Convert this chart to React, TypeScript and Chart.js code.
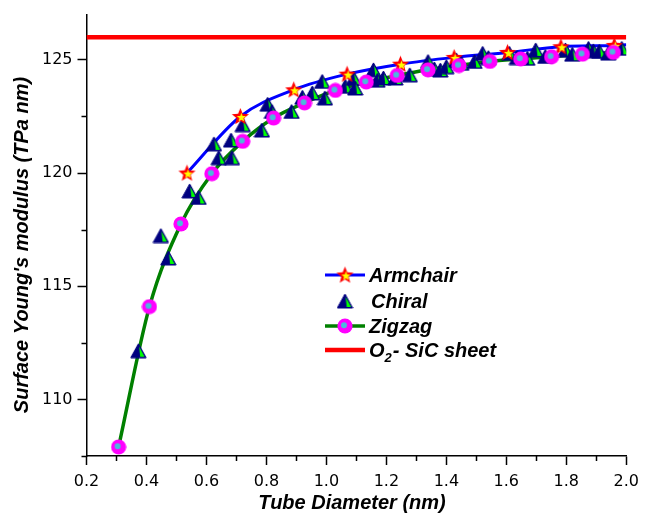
import React, { useEffect, useRef } from "react";
import { Chart, registerables } from "chart.js";

Chart.register(...registerables);

// ---- data ----
const xTicks = [0.2, 0.4, 0.6, 0.8, 1.0, 1.2, 1.4, 1.6, 1.8, 2.0];
const xMinorTicks = [0.3, 0.5, 0.7, 0.9, 1.1, 1.3, 1.5, 1.7, 1.9];
const yTicks = [110, 115, 120, 125];
const yMinorTicks = [107.5, 112.5, 117.5, 122.5];

const armchairD = [0.535, 0.713, 0.891, 1.069, 1.247, 1.426, 1.604, 1.782, 1.96];
const armchairE = [120.0, 122.5, 123.68, 124.37, 124.81, 125.11, 125.33, 125.58, 125.64];
// fitted curve drawn through the armchair points up to the right edge
const armchairFitD = [0.535, 0.713, 0.891, 1.069, 1.247, 1.426, 1.604, 1.782, 1.96, 2.0];
const armchairFitE = [120.0, 122.5, 123.68, 124.37, 124.81, 125.11, 125.33, 125.58, 125.64, 125.67];

const zigzagD = [0.307, 0.41, 0.515, 0.618, 0.721, 0.824, 0.927, 1.03, 1.133, 1.236, 1.339, 1.442, 1.545, 1.648, 1.751, 1.854, 1.957];
const zigzagE = [107.9, 114.1, 117.75, 119.97, 121.4, 122.43, 123.1, 123.65, 124.02, 124.31, 124.56, 124.75, 124.93, 125.04, 125.14, 125.25, 125.33];
const zigzagFitD = [0.307, 0.41, 0.515, 0.618, 0.721, 0.824, 0.927, 1.03, 1.133, 1.236, 1.339, 1.442, 1.545, 1.648, 1.751, 1.854, 1.957, 2.0];
const zigzagFitE = [107.9, 114.1, 117.75, 119.97, 121.4, 122.43, 123.1, 123.65, 124.02, 124.31, 124.56, 124.75, 124.93, 125.04, 125.14, 125.25, 125.33, 125.36];

const chiralD = [0.373, 0.448, 0.473, 0.544, 0.574, 0.625, 0.641, 0.682, 0.685, 0.721, 0.785, 0.804, 0.818, 0.884, 0.92, 0.953, 0.986, 0.995, 1.063, 1.091, 1.096, 1.157, 1.17, 1.19, 1.23, 1.278, 1.339, 1.36, 1.38, 1.40, 1.433, 1.45, 1.494, 1.521, 1.54, 1.61, 1.635, 1.67, 1.698, 1.73, 1.797, 1.82, 1.874, 1.89, 1.91, 1.94, 1.985];
const chiralE = [112.15, 117.24, 116.25, 119.21, 118.92, 121.29, 120.68, 121.46, 120.68, 122.14, 121.9, 123.04, 122.72, 122.72, 123.35, 123.54, 124.05, 123.32, 123.83, 124.19, 123.76, 124.56, 124.1, 124.2, 124.2, 124.34, 124.93, 124.6, 124.55, 124.7, 125.0, 124.85, 124.93, 125.29, 125.1, 125.29, 125.1, 125.07, 125.44, 125.15, 125.44, 125.25, 125.51, 125.4, 125.38, 125.3, 125.51];

const sheetD = [0.2, 2.0];
const sheetE = [126, 126];

const legendLabels = ["Armchair", "Chiral", "Zigzag"];
const sheetLabelParts = ["O", "2", "- SiC sheet"];
const xTitle = "Tube Diameter (nm)";
const yTitle = "Surface Young's modulus (TPa nm)";

const pts = (xs: number[], ys: number[]) => xs.map((x, i) => ({ x, y: ys[i] }));

function starPath(ctx: CanvasRenderingContext2D, cx: number, cy: number, R: number, r: number) {
  ctx.beginPath();
  for (let i = 0; i < 10; i++) {
    const rad = i % 2 === 0 ? R : r;
    const a = -Math.PI / 2 + (i * Math.PI) / 5;
    const px = cx + rad * Math.cos(a);
    const py = cy + rad * Math.sin(a);
    if (i === 0) ctx.moveTo(px, py);
    else ctx.lineTo(px, py);
  }
  ctx.closePath();
}

function makeStar(): HTMLCanvasElement {
  const c = document.createElement("canvas");
  c.width = 19;
  c.height = 19;
  const ctx = c.getContext("2d")!;
  starPath(ctx, 9.5, 10, 9, 3.9);
  ctx.fillStyle = "#ff0000";
  ctx.fill();
  starPath(ctx, 10.5, 10.6, 4.8, 2.1);
  ctx.fillStyle = "#ffff00";
  ctx.fill();
  return c;
}

function makeTriangle(): HTMLCanvasElement {
  const c = document.createElement("canvas");
  c.width = 17;
  c.height = 16;
  const ctx = c.getContext("2d")!;
  const tri = () => {
    ctx.beginPath();
    ctx.moveTo(8.5, 1);
    ctx.lineTo(16.2, 15);
    ctx.lineTo(0.8, 15);
    ctx.closePath();
  };
  tri();
  ctx.fillStyle = "#000080";
  ctx.fill();
  ctx.beginPath();
  ctx.moveTo(9.2, 3.8);
  ctx.lineTo(14.6, 14.1);
  ctx.lineTo(10.2, 14.1);
  ctx.closePath();
  ctx.fillStyle = "#00ff00";
  ctx.fill();
  tri();
  ctx.strokeStyle = "#000080";
  ctx.lineWidth = 1;
  ctx.stroke();
  return c;
}

function makeBall(): HTMLCanvasElement {
  const c = document.createElement("canvas");
  c.width = 16;
  c.height = 16;
  const ctx = c.getContext("2d")!;
  ctx.beginPath();
  ctx.arc(8, 8, 7.6, 0, Math.PI * 2);
  ctx.fillStyle = "#ff00ff";
  ctx.fill();
  ctx.beginPath();
  ctx.arc(7, 7.2, 3, 0, Math.PI * 2);
  ctx.fillStyle = "#4db8dc";
  ctx.fill();
  return c;
}

const TITLE_FONT = 'italic bold 20px "Liberation Sans", Arial, sans-serif';

export default function App() {
  const ref = useRef<HTMLCanvasElement>(null);

  useEffect(() => {
    if (!ref.current) return;
    const star = makeStar();
    const tri = makeTriangle();
    const ball = makeBall();

    const extras = {
      id: "extras",
      afterDraw(chart: any) {
        const ctx: CanvasRenderingContext2D = chart.ctx;
        const xs = chart.scales.x;
        const ys = chart.scales.y;
        const area = chart.chartArea;
        ctx.save();
        // minor ticks
        ctx.strokeStyle = "#000";
        ctx.lineWidth = 1.5;
        ctx.beginPath();
        xMinorTicks.forEach((v) => {
          const px = Math.round(xs.getPixelForValue(v)) + 0.5;
          ctx.moveTo(px, area.bottom);
          ctx.lineTo(px, area.bottom + 5);
        });
        yMinorTicks.forEach((v) => {
          const py = Math.round(ys.getPixelForValue(v)) + 0.5;
          ctx.moveTo(area.left - 5, py);
          ctx.lineTo(area.left, py);
        });
        ctx.stroke();

        // axis titles
        ctx.fillStyle = "#000";
        ctx.font = TITLE_FONT;
        ctx.textAlign = "center";
        ctx.textBaseline = "alphabetic";
        ctx.fillText(xTitle, 352, 509);
        ctx.save();
        ctx.translate(28, 245);
        ctx.rotate(-Math.PI / 2);
        ctx.fillText(yTitle, 0, 0);
        ctx.restore();

        // legend
        const lx0 = 325, lx1 = 365, mx = 345, tx = 369;
        const rows = [275, 301, 326, 350];
        ctx.lineWidth = 3;
        ctx.strokeStyle = "#0000ff";
        ctx.beginPath();
        ctx.moveTo(lx0, rows[0]);
        ctx.lineTo(lx1, rows[0]);
        ctx.stroke();
        ctx.drawImage(star, mx - star.width / 2, rows[0] - star.height / 2);
        ctx.drawImage(tri, mx - tri.width / 2, rows[1] - tri.height / 2);
        ctx.lineWidth = 3.5;
        ctx.strokeStyle = "#008000";
        ctx.beginPath();
        ctx.moveTo(lx0, rows[2]);
        ctx.lineTo(lx1, rows[2]);
        ctx.stroke();
        ctx.drawImage(ball, mx - ball.width / 2, rows[2] - ball.height / 2);
        ctx.lineWidth = 4.5;
        ctx.strokeStyle = "#ff0000";
        ctx.beginPath();
        ctx.moveTo(lx0, rows[3]);
        ctx.lineTo(lx1, rows[3]);
        ctx.stroke();

        ctx.textAlign = "left";
        ctx.fillStyle = "#000";
        ctx.font = TITLE_FONT;
        ctx.fillText(legendLabels[0], tx, rows[0] + 7);
        ctx.fillText(legendLabels[1], tx + 2, rows[1] + 7);
        ctx.fillText(legendLabels[2], tx, rows[2] + 7);
        let cx = tx;
        ctx.fillText(sheetLabelParts[0], cx, rows[3] + 7);
        cx += ctx.measureText(sheetLabelParts[0]).width;
        ctx.font = 'italic bold 13px "Liberation Sans", Arial, sans-serif';
        ctx.fillText(sheetLabelParts[1], cx, rows[3] + 12);
        cx += ctx.measureText(sheetLabelParts[1]).width + 1;
        ctx.font = TITLE_FONT;
        ctx.fillText(sheetLabelParts[2], cx, rows[3] + 7);
        ctx.restore();
      },
    };

    const chart = new Chart(ref.current, {
      type: "scatter",
      data: {
        datasets: [
          {
            label: "sheet",
            data: pts(sheetD, sheetE),
            showLine: true,
            borderColor: "#ff0000",
            borderWidth: 4.5,
            pointRadius: 0,
            order: 6,
          },
          {
            label: "armchair fit",
            data: pts(armchairFitD, armchairFitE),
            showLine: true,
            borderColor: "#0000ff",
            borderWidth: 3,
            cubicInterpolationMode: "monotone",
            pointRadius: 0,
            order: 5,
          },
          {
            label: "zigzag fit",
            data: pts(zigzagFitD, zigzagFitE),
            showLine: true,
            borderColor: "#008000",
            borderWidth: 3.5,
            cubicInterpolationMode: "monotone",
            pointRadius: 0,
            order: 4,
          },
          {
            label: legendLabels[1],
            data: pts(chiralD, chiralE),
            pointStyle: tri,
            pointRadius: 8,
            order: 3,
          },
          {
            label: legendLabels[0],
            data: pts(armchairD, armchairE),
            pointStyle: star,
            pointRadius: 8,
            order: 2,
          },
          {
            label: legendLabels[2],
            data: pts(zigzagD, zigzagE),
            pointStyle: ball,
            pointRadius: 8,
            order: 1,
          },
        ] as any,
      },
      options: {
        animation: false,
        responsive: false,
        devicePixelRatio: 1,
        layout: { padding: { top: 14, right: 16, left: 0, bottom: 0 } },
        plugins: { legend: { display: false }, tooltip: { enabled: false } },
        scales: {
          x: {
            type: "linear",
            min: 0.2,
            max: 2.0,
            afterBuildTicks: (s: any) => {
              s.ticks = xTicks.map((v) => ({ value: v }));
            },
            afterFit: (s: any) => {
              s.height = 57;
            },
            ticks: {
              callback: (v: any) => Number(v).toFixed(1),
              font: { family: '"DejaVu Sans", sans-serif', size: 16 },
              color: "#000",
              padding: 7,
              maxRotation: 0,
              autoSkip: false,
            },
            grid: {
              drawOnChartArea: false,
              drawTicks: true,
              tickLength: 9,
              tickWidth: 1.5,
              tickColor: "#000",
            },
            border: { display: true, color: "#000", width: 1.5 },
          },
          y: {
            type: "linear",
            min: 107.5,
            max: 127,
            afterBuildTicks: (s: any) => {
              s.ticks = yTicks.map((v) => ({ value: v }));
            },
            afterFit: (s: any) => {
              s.width = 86.5;
            },
            ticks: {
              callback: (v: any) => String(v),
              font: { family: '"DejaVu Sans", sans-serif', size: 16 },
              color: "#000",
              padding: 5,
              autoSkip: false,
            },
            grid: {
              drawOnChartArea: false,
              drawTicks: true,
              tickLength: 9,
              tickWidth: 1.5,
              tickColor: "#000",
            },
            border: { display: true, color: "#000", width: 1.5 },
          },
        },
      } as any,
      plugins: [extras],
    });

    return () => chart.destroy();
  }, []);

  return (
    <div style={{ position: "absolute", left: 0, top: 0, width: 646, height: 513, background: "#fff" }}>
      <canvas ref={ref} width={646} height={513} style={{ width: 646, height: 513, display: "block" }} />
    </div>
  );
}
